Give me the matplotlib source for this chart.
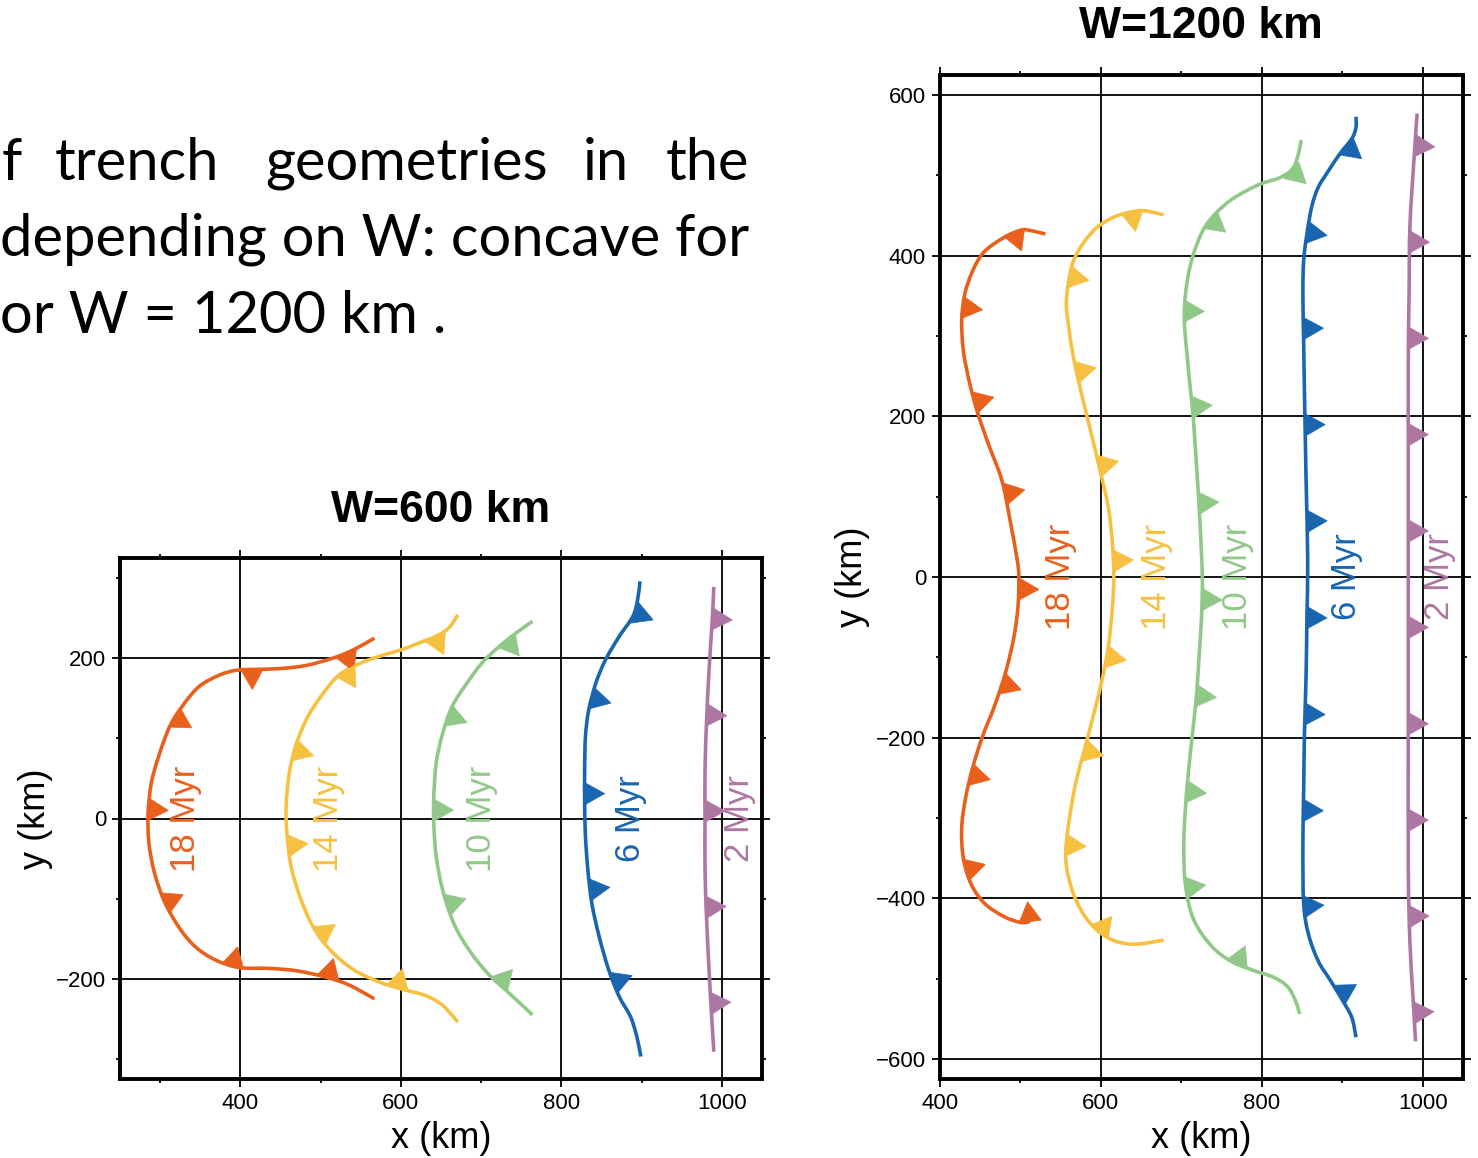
import numpy as np
import matplotlib
matplotlib.use('Agg')
import matplotlib.pyplot as plt
from matplotlib.patches import Polygon, PathPatch
from matplotlib.path import Path
from matplotlib.ticker import MultipleLocator

# ---- trench traces, W = 600 km (x, y in km), listed from north end to south end
x18_600 = [567, 540, 515, 482, 449, 416, 395, 374, 349, 329, 312, 298, 289, 285, 286,
           293, 306, 325, 345, 370, 399, 436, 470, 507, 536, 567]
y18_600 = [225, 210, 200, 191, 187, 186, 185, 179, 165, 142, 115, 77, 44, 7, -30,
           -68, -105, -138, -161, -177, -186, -187, -190, -198, -208, -225]
x14_600 = [671, 660, 645, 620, 599, 572, 548, 523, 503, 484, 470, 461, 457, 458, 463,
           474, 490, 511, 540, 573, 602, 631, 652, 671]
y14_600 = [254, 238, 228, 218, 210, 202, 193, 179, 156, 127, 94, 57, 15, -18, -59,
           -97, -134, -163, -188, -204, -213, -221, -233, -254]
x10_600 = [764, 743, 722, 701, 681, 664, 652, 644, 641, 641, 644, 652, 666, 685, 708, 735, 764]
y10_600 = [246, 231, 214, 194, 167, 140, 106, 69, 27, -6, -47, -89, -131, -164, -193, -218, -245]
x6_600 = [898, 895, 889, 872, 855, 843, 834, 830, 829, 829, 830, 833, 838, 847, 859,
          872, 886, 894, 899]
y6_600 = [296, 273, 252, 227, 198, 169, 135, 102, 61, 19, -22, -64, -106, -147, -189,
          -222, -247, -272, -297]
x2_600 = [990, 988, 984, 981, 979, 979, 979, 981, 984, 987, 990]
y2_600 = [289, 248, 185, 123, 61, -2, -64, -126, -189, -243, -291]

# ---- trench traces, W = 1200 km
x18_1200 = [531, 514, 501, 480, 455, 441, 431, 427, 429, 436, 446, 460, 477, 487, 496,
            498, 497, 492, 482, 468, 453, 441, 432, 427, 429, 439, 456, 480, 500, 512]
y18_1200 = [427, 431, 432, 423, 405, 382, 353, 320, 282, 245, 207, 166, 120, 71, 21,
            0, -36, -74, -117, -160, -198, -236, -274, -312, -350, -383, -407, -423, -430, -429]
x14_1200 = [678, 654, 635, 616, 596, 579, 566, 560, 557, 560, 565, 572, 581, 591, 600,
            609, 614, 616, 614, 609, 601, 590, 579, 569, 562, 557, 557, 565, 579, 598,
            620, 645, 678]
y14_1200 = [451, 456, 454, 448, 436, 417, 394, 369, 340, 311, 278, 245, 207, 166, 128,
            88, 45, 0, -41, -88, -130, -175, -217, -255, -293, -331, -359, -392, -421, -442,
            -454, -457, -452]
x10_1200 = [849, 845, 838, 822, 800, 781, 761, 742, 727, 715, 708, 704, 704, 707, 710,
            714, 717, 720, 723, 726, 725, 722, 719, 714, 709, 705, 703, 705, 715, 737,
            761, 790, 814, 832, 842, 847]
y10_1200 = [544, 525, 508, 497, 490, 481, 469, 452, 432, 402, 373, 340, 311, 278, 245,
            207, 166, 120, 70, 0, -50, -98, -145, -193, -240, -288, -335, -383, -426, -459,
            -478, -490, -498, -510, -528, -544]
x6_1200 = [917, 917, 912, 897, 883, 870, 862, 856, 852, 851, 852, 853, 855, 857, 856,
           855, 853, 852, 851, 852, 858, 870, 885, 902, 912, 917]
y6_1200 = [573, 560, 546, 527, 506, 485, 461, 427, 394, 353, 290, 228, 120, 21, -50,
           -122, -193, -264, -335, -407, -445, -478, -502, -530, -549, -573]
x2_1200 = [993, 989, 984, 983, 982, 982, 982, 982, 982, 984, 988, 991]
y2_1200 = [577, 519, 436, 353, 270, 120, 21, -169, -359, -454, -525, -578]

ages = ["18 Myr", "14 Myr", "10 Myr", "6 Myr", "2 Myr"]
colors = ["#E8601C", "#F6C141", "#90C987", "#1965B0", "#AE76A3"]

# label x positions (km), labels centred on y = 0
label_x_600 = [331, 510, 701, 886, 1022]
label_x_1200 = [550, 669, 770, 905, 1021]

W = 1478
H = 1158

plt.rcParams['font.family'] = ['Liberation Sans', 'DejaVu Sans']


def smooth_path(xs, ys):
    # Catmull-Rom through the read points, as cubic Bezier segments
    p = np.column_stack([xs, ys]).astype(float)
    ext = np.vstack([p[0], p, p[-1]])
    verts = [p[0]]
    codes = [Path.MOVETO]
    for i in range(len(p) - 1):
        p0, p1, p2, p3 = ext[i], ext[i + 1], ext[i + 2], ext[i + 3]
        verts += [p1 + (p2 - p0) / 6.0, p2 - (p3 - p1) / 6.0, p2]
        codes += [Path.CURVE4] * 3
    return Path(np.array(verts), codes)


def front_marks(ax, line, color, tail=2.0, first=40.0, gap=120.0, base=28.0, height=25.0):
    # subduction teeth: triangles on the left side when walking north -> south
    p = line
    seg = np.hypot(*np.diff(p, axis=0).T)
    s = np.concatenate([[0.0], np.cumsum(seg)])
    L = s[-1]
    sk = first
    while sk <= L + tail:
        sc = min(sk, L)
        c = np.array([np.interp(sc, s, p[:, 0]), np.interp(sc, s, p[:, 1])])
        a = np.array([np.interp(sc - 10, s, p[:, 0]), np.interp(sc - 10, s, p[:, 1])])
        b = np.array([np.interp(sc + 10, s, p[:, 0]), np.interp(sc + 10, s, p[:, 1])])
        t = (b - a) / np.hypot(*(b - a))
        nrm = np.array([-t[1], t[0]])
        tri = [c - t * base / 2, c + t * base / 2, c + nrm * height]
        ax.add_patch(Polygon(tri, closed=True, facecolor=color, edgecolor=color,
                             lw=0.5, zorder=4))
        sk += gap


def style_axes(ax, xlim, ylim):
    ax.set_xlim(*xlim)
    ax.set_ylim(*ylim)
    ax.xaxis.set_major_locator(MultipleLocator(200))
    ax.xaxis.set_minor_locator(MultipleLocator(100))
    ax.yaxis.set_major_locator(MultipleLocator(200))
    ax.yaxis.set_minor_locator(MultipleLocator(100))
    ax.tick_params(which='both', direction='out', top=True, right=True,
                   labelsize=16, color='black')
    ax.tick_params(which='major', length=6, width=1.3, pad=4)
    ax.tick_params(which='minor', length=3, width=1.3)
    ax.grid(True, which='major', color='black', lw=1.3)
    ax.set_axisbelow(True)
    for sp in ax.spines.values():
        sp.set_linewidth(2.8)
        sp.set_zorder(6)


def draw_panel(ax, traces, label_x, tails):
    for (xs, ys), col, lab, lx, tl in zip(traces, colors, ages, label_x, tails):
        path = smooth_path(xs, ys)
        ax.add_patch(PathPatch(path, fill=False, edgecolor=col, lw=2.6,
                               capstyle='butt', joinstyle='round', zorder=3))
        line = path.to_polygons(closed_only=False)[0]
        front_marks(ax, line, col, tail=tl)
        ax.text(lx, 0, lab, color=col, fontsize=25, rotation=90,
                ha='center', va='center', zorder=5)


fig = plt.figure(figsize=(W / 100, H / 100), dpi=100)

# W = 600 km panel
ax1 = fig.add_axes([120 / W, 1 - 1079 / H, 642 / W, 521 / H])
style_axes(ax1, (250, 1050), (-325, 325))
draw_panel(ax1, [(x18_600, y18_600), (x14_600, y14_600), (x10_600, y10_600),
                 (x6_600, y6_600), (x2_600, y2_600)], label_x_600, [2, 2, 2, 2, 2])
ax1.set_xlabel("x (km)", fontsize=26, va='center')
ax1.set_ylabel("y (km)", fontsize=26, va='center')
ax1.xaxis.set_label_coords(0.5, -(1138 - 1079) / 521)
ax1.yaxis.set_label_coords((35 - 120) / 642, 0.5)

# W = 1200 km panel (the 18 Myr trace carries a tooth right at its southern tip)
ax2 = fig.add_axes([940 / W, 1 - 1079 / H, 523 / W, 1004 / H])
style_axes(ax2, (400, 1050), (-625, 625))
draw_panel(ax2, [(x18_1200, y18_1200), (x14_1200, y14_1200), (x10_1200, y10_1200),
                 (x6_1200, y6_1200), (x2_1200, y2_1200)], label_x_1200, [20, 2, 2, 2, 2])
ax2.set_xlabel("x (km)", fontsize=26, va='center')
ax2.set_ylabel("y (km)", fontsize=26, va='center')
ax2.xaxis.set_label_coords(0.5, -(1138 - 1079) / 1004)
ax2.yaxis.set_label_coords((852 - 940) / 523, 0.5)

fig.text(441 / W, 1 - 511 / H, "W=600 km", fontsize=32, fontweight='bold',
         ha='center', va='center')
fig.text(1201 / W, 1 - 27 / H, "W=1200 km", fontsize=32, fontweight='bold',
         ha='center', va='center')

# slide text fragment (cut off at the left edge)
body = dict(fontsize=41.7, family=['Lato', 'DejaVu Sans'], color='black', va='baseline')
for word, right in [("f", 22), ("trench", 219), ("geometries", 548), ("in", 629), ("the", 749)]:
    fig.text(right / W, 1 - 180 / H, word, ha='right', **body)
fig.text(749 / W, 1 - 256 / H, "depending on W: concave for", ha='right', **body)
fig.text(0 / W, 1 - 333 / H, "or W = 1200 km .", ha='left', **body)

fig.savefig("out.png", dpi=100)
